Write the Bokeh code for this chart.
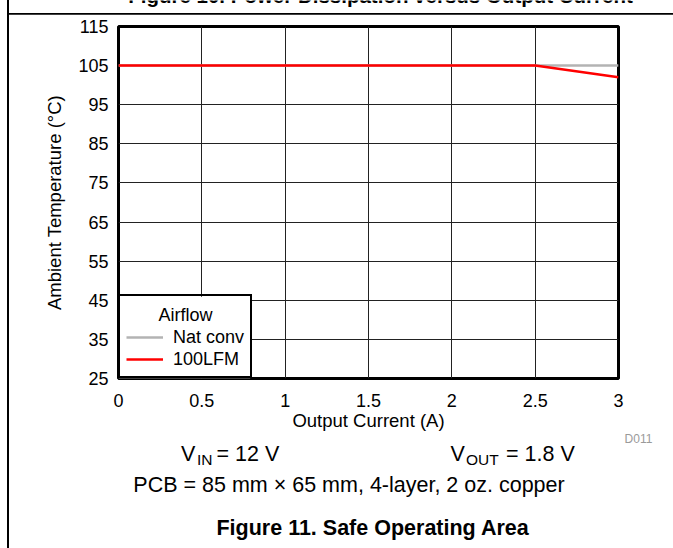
from bokeh.plotting import figure
from bokeh.layouts import column, row
from bokeh.models import (Legend, LegendItem, Label, FixedTicker, Range1d,
                          NumeralTickFormatter, Div, BoxAnnotation)
from bokeh.embed import file_html
from bokeh.resources import INLINE

# ---------------- data ----------------
current_nat = [0, 3]
temp_nat = [105, 105]
current_lfm = [0, 2.5, 3]
temp_lfm = [105, 105, 102]
series_names = ["Nat conv", "100LFM"]
legend_title = "Airflow"
x_ticks = [0, 0.5, 1, 1.5, 2, 2.5, 3]
y_ticks = [25, 35, 45, 55, 65, 75, 85, 95, 105, 115]
x_label = "Output Current (A)"
y_label = "Ambient Temperature (°C)"
fig_title = "Figure 11. Safe Operating Area"
prev_title = "Figure 10. Power Dissipation versus Output Current"
cond_pcb = "PCB = 85 mm × 65 mm, 4-layer, 2 oz. copper"
doc_id = "D011"

FONT = "Liberation Sans"
PAGE_W, PAGE_H = 673, 548
HEAD_H = 16          # header strip height
CHART_BOTTOM = 433   # page y where the chart row ends
LEFT_W = 10          # narrow strip left of the chart
CHART_W = PAGE_W - LEFT_W
ROW_H = CHART_BOTTOM - HEAD_H
K_BASE = 0.35        # baseline correction (fraction of font size)
PAGE_RULE_BG = ("linear-gradient(to right, #ffffff 0px, #ffffff 7px, "
                "#000000 7px, #000000 8.7px, #ffffff 8.7px)")


def blank(w, h, x0, y0):
    f = figure(width=w, height=h, output_backend="svg", toolbar_location=None,
               x_range=Range1d(x0, x0 + w), y_range=Range1d(y0 + h, y0),
               min_border=0, x_axis_location=None, y_axis_location=None)
    f.outline_line_color = None
    f.background_fill_color = None
    f.border_fill_color = None
    for g in f.grid:
        g.visible = False
    return f


def lab(f, text, xp, yp, size, align="left", style="normal", color="black"):
    px = float(size.replace("px", ""))
    f.add_layout(Label(x=xp, y=yp - K_BASE * px, text=text, text_font=FONT,
                       text_font_size=size, text_font_style=style, text_color=color,
                       text_align=align, text_baseline="alphabetic"))


# ---------------- header strip ----------------
head = blank(PAGE_W, HEAD_H, 0, 0)
head.segment(x0=[7.8], y0=[13.4], x1=[PAGE_W], y1=[13.4], line_color="black",
             line_width=1.6)
lab(head, prev_title, 380, 2, "20.5px", align="center", style="bold")

# ---------------- left strip ----------------
left = Div(text="", width=LEFT_W, height=ROW_H, margin=0,
           styles={"background": PAGE_RULE_BG})

# ---------------- chart ----------------
FL, FT, FW, FH = 108, 10, 500, 354
p = figure(width=CHART_W, height=ROW_H, output_backend="svg", toolbar_location=None,
           x_range=Range1d(0, 3), y_range=Range1d(25, 115),
           min_border_left=FL, min_border_right=CHART_W - FL - FW,
           min_border_top=FT, min_border_bottom=ROW_H - FT - FH)
p.background_fill_color = "white"
p.border_fill_color = "white"
p.outline_line_color = "black"
p.outline_line_width = 3

p.xgrid.ticker = FixedTicker(ticks=x_ticks)
p.ygrid.ticker = FixedTicker(ticks=y_ticks)
for g in (p.xgrid, p.ygrid):
    g.grid_line_color = "#222222"
    g.grid_line_width = 1

p.xaxis.ticker = FixedTicker(ticks=x_ticks)
p.yaxis.ticker = FixedTicker(ticks=y_ticks)
p.xaxis.formatter = NumeralTickFormatter(format="0.[0]")
for ax in (p.xaxis, p.yaxis):
    ax.axis_line_color = None
    ax.major_tick_line_color = None
    ax.minor_tick_line_color = None
    ax.major_tick_out = 0
    ax.major_tick_in = 0
    ax.major_label_text_font = FONT
    ax.major_label_text_font_size = "18px"
    ax.major_label_text_color = "black"
    ax.axis_label_text_font = FONT
    ax.axis_label_text_font_size = "18.5px"
    ax.axis_label_text_font_style = "normal"
    ax.axis_label_text_color = "black"
p.xaxis.axis_label = x_label
p.yaxis.axis_label = y_label
p.xaxis.major_label_standoff = 15
p.xaxis.axis_label_standoff = 0
p.yaxis.major_label_standoff = 10
p.yaxis.axis_label_standoff = 10

r1 = p.line(current_nat, temp_nat, line_color="#b3b3b3", line_width=2.5)
r2 = p.line(current_lfm, temp_lfm, line_color="#ff0000", line_width=2.5)

# opaque backing for the legend box (legend itself is transparent)
p.add_layout(BoxAnnotation(left=0, right=0.79, bottom=25, top=45.9,
                           fill_color="white", fill_alpha=1.0, line_color=None))
p.add_layout(Label(x=67, y=380 - (323 - K_BASE * 18), x_units="screen",
                   y_units="screen", text=legend_title, text_font=FONT,
                   text_font_size="18px", text_align="center",
                   text_baseline="alphabetic", text_color="black"))

legend = Legend(items=[LegendItem(label=series_names[0], renderers=[r1]),
                       LegendItem(label=series_names[1], renderers=[r2])],
                location=(0, 0), title=" ", title_text_font=FONT,
                title_text_font_size="18px", title_standoff=3,
                border_line_color="black", border_line_width=2.5,
                border_line_alpha=1.0,
                background_fill_color="white", background_fill_alpha=0.0,
                padding=6, spacing=0, margin=0, glyph_width=37, glyph_height=22,
                label_height=22, label_standoff=10, label_text_font=FONT,
                label_text_font_size="18px", label_text_color="black")
p.add_layout(legend, "center")

# ---------------- bottom block ----------------
bottom = blank(PAGE_W, PAGE_H - CHART_BOTTOM, 0, CHART_BOTTOM)
lab(bottom, doc_id, 638, 443, "12px", align="center", color="#9a9a9a")
lab(bottom, "V", 180.5, 460.7, "21.5px")
lab(bottom, "IN", 196.5, 464.5, "15.5px")
lab(bottom, "= 12 V", 216, 460.7, "21.5px")
lab(bottom, "V", 450, 460.7, "21.5px")
lab(bottom, "OUT", 465.5, 464.5, "15.5px")
lab(bottom, "= 1.8 V", 505.5, 460.7, "21.5px")
lab(bottom, cond_pcb, 348.5, 492, "21.5px", align="center")
lab(bottom, fig_title, 372.5, 535, "21.5px", align="center", style="bold")

layout = column(head, row(left, p), bottom, styles={"background": PAGE_RULE_BG})
open("out.html", "w").write(file_html(layout, INLINE))
